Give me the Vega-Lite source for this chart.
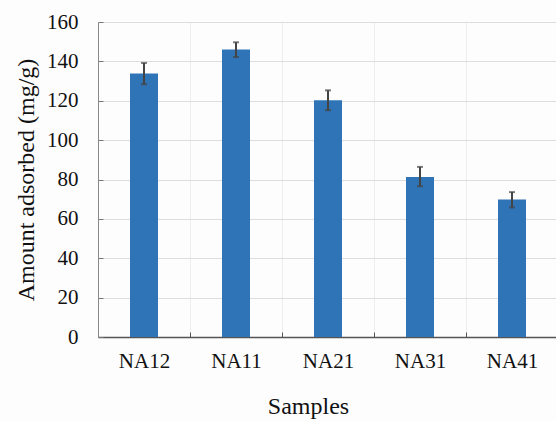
{
  "$schema": "https://vega.github.io/schema/vega-lite/v6.json",
  "autosize": {"type": "none"},
  "width": 460,
  "height": 315,
  "padding": {"left": 98, "top": 22, "right": 0, "bottom": 84},
  "background": "#fdfdfd",
  "config": {
    "view": {"stroke": null},
    "font": "Liberation Serif"
  },
  "data": {
    "values": [
      {"sample": "NA12", "amount": 133.8, "up": 5.4, "down": -5.4},
      {"sample": "NA11", "amount": 146.0, "up": 3.7, "down": -3.8},
      {"sample": "NA21", "amount": 120.2, "up": 5.1, "down": -5.0},
      {"sample": "NA31", "amount": 81.3, "up": 5.1, "down": -4.7},
      {"sample": "NA41", "amount": 69.9, "up": 3.7, "down": -4.1}
    ]
  },
  "encoding": {
    "x": {
      "field": "sample",
      "type": "nominal",
      "sort": null,
      "scale": {"paddingInner": 0, "paddingOuter": 0},
      "axis": {
        "title": "Samples",
        "titleFont": "Liberation Serif",
        "titleFontSize": 24,
        "titleFontWeight": "normal",
        "titleColor": "#111",
        "titlePadding": 23,
        "titleX": 210,
        "labelFont": "Liberation Serif",
        "labelFontSize": 21,
        "labelColor": "#111",
        "labelAngle": 0,
        "labelPadding": 18,
        "labelOverlap": false,
        "tickBand": "extent",
        "ticks": true,
        "tickSize": -5,
        "tickColor": "#555",
        "domainColor": "#555",
        "domainWidth": 1.5,
        "grid": true,
        "gridColor": "#eeeeee"
      }
    },
    "y": {
      "field": "amount",
      "type": "quantitative",
      "scale": {"domain": [0, 160], "nice": false},
      "axis": {
        "title": "Amount adsorbed (mg/g)",
        "titleFont": "Liberation Serif",
        "titleFontSize": 24,
        "titleFontWeight": "normal",
        "titleColor": "#111",
        "titlePadding": 8,
        "labelFont": "Liberation Serif",
        "labelFontSize": 21,
        "labelColor": "#111",
        "labelPadding": 25,
        "labelOverlap": false,
        "labelFlush": false,
        "values": [0, 20, 40, 60, 80, 100, 120, 140, 160],
        "ticks": true,
        "tickSize": -5,
        "tickColor": "#777",
        "domain": true,
        "domainColor": "#888",
        "gridColor": "#dddddd"
      }
    }
  },
  "layer": [
    {
      "mark": {"type": "bar", "size": 28, "color": "#2e74b7"}
    },
    {
      "mark": {
        "type": "errorbar",
        "color": "#444",
        "thickness": 2,
        "ticks": {"size": 6, "thickness": 2, "color": "#444"}
      },
      "encoding": {
        "yError": {"field": "up"},
        "yError2": {"field": "down"}
      }
    }
  ]
}
